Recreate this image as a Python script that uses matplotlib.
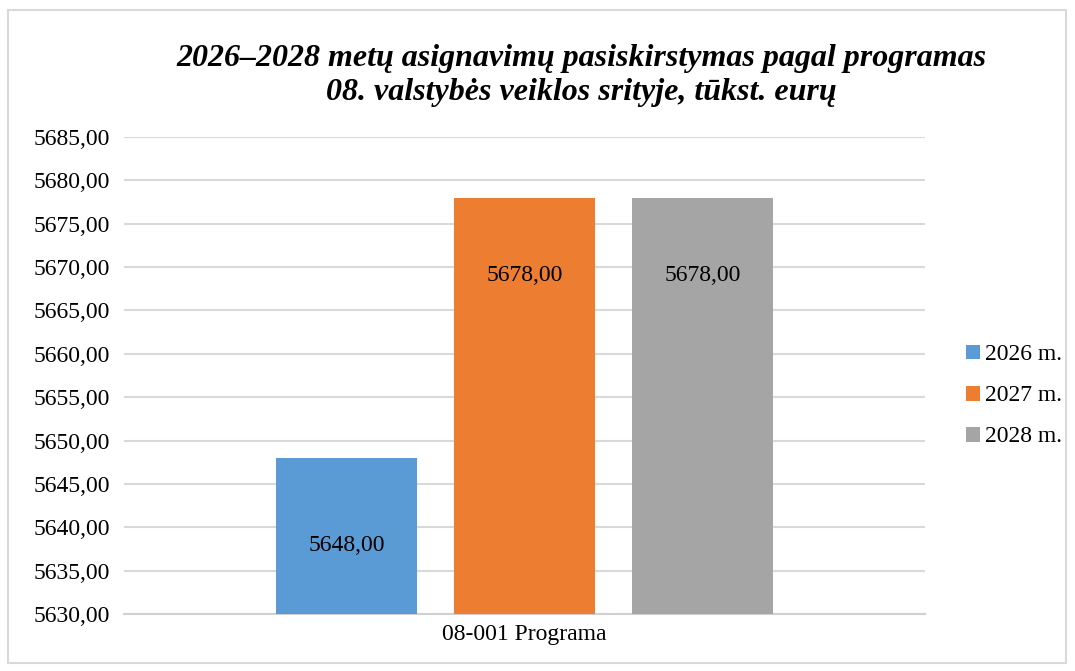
import matplotlib.pyplot as plt
from matplotlib.patches import Rectangle

plt.rcParams['font.family'] = ['Liberation Serif', 'DejaVu Serif']

# data
category = "08-001 Programa"
series = ["2026 m.", "2027 m.", "2028 m."]
values = [5648.00, 5678.00, 5678.00]
colors = ["#5B9BD5", "#ED7D31", "#A5A5A5"]
y_ticks = [5630, 5635, 5640, 5645, 5650, 5655, 5660, 5665, 5670, 5675, 5680, 5685]


def fmt(v):
    return f"{v:.2f}".replace(".", ",")


fig = plt.figure(figsize=(10.75, 6.71), dpi=100)
ax = fig.add_axes([0.1153, 0.0849, 0.7452, 0.7109])

# outer frame like the Excel chart area
fig.patches.append(Rectangle((8 / 1075, 8 / 671), 1058 / 1075, 653 / 671,
                             transform=fig.transFigure, fill=False,
                             edgecolor="#d9d9d9", linewidth=1.5))

width = 0.1748
step = 0.2222
# label drop below bar top, in points (Excel puts them a bit lower on short bars)
label_drop = [-63, -56, -56]
for i, (name, v, c) in enumerate(zip(series, values, colors)):
    x = (i - 1) * step
    ax.bar(x, v - y_ticks[0], bottom=y_ticks[0], width=width, color=c,
           label=name, zorder=3)
    ax.annotate(fmt(v), (x, v), xytext=(0, label_drop[i]),
                textcoords="offset points", ha="center", va="center",
                fontsize=17, zorder=4)

ax.set_xlim(-0.5, 0.5)
ax.set_ylim(y_ticks[0], y_ticks[-1])
ax.set_yticks(y_ticks)
ax.set_yticklabels([fmt(t) for t in y_ticks], fontsize=17)
ax.set_xticks([0])
ax.set_xticklabels([category], fontsize=17)
ax.tick_params(length=0, pad=10)
ax.tick_params(axis="x", pad=7)
ax.grid(axis="y", color="#d9d9d9", linewidth=1.5, zorder=0)
for s in ["top", "right", "left"]:
    ax.spines[s].set_visible(False)
ax.spines["bottom"].set_color("#d0d0d0")
ax.spines["bottom"].set_linewidth(1.5)

fig.text(0.5405, 0.9135, "2026–2028 metų asignavimų pasiskirstymas pagal programas",
         ha="center", va="center", fontsize=23, fontweight="bold", style="italic")
fig.text(0.5405, 0.8615, "08. valstybės veiklos srityje, tūkst. eurų",
         ha="center", va="center", fontsize=23, fontweight="bold", style="italic")

fig.legend(loc="center left", bbox_to_anchor=(0.879, 0.41), frameon=False,
           fontsize=17, handlelength=0.6, handleheight=0.6, handletextpad=0.2,
           labelspacing=0.85)

fig.savefig("out.png", dpi=100)
